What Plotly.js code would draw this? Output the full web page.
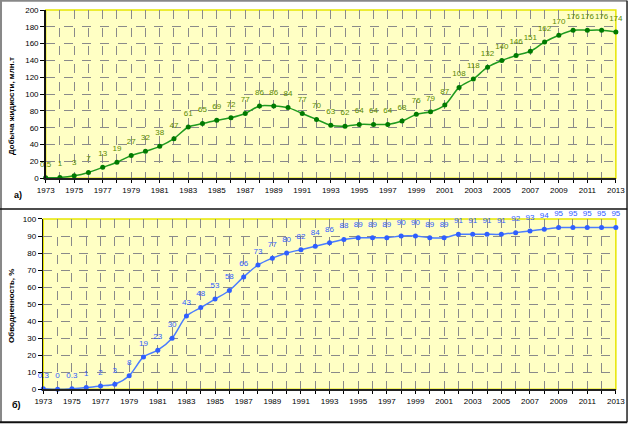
<!DOCTYPE html>
<html>
<head>
<meta charset="utf-8">
<script src="https://cdn.plot.ly/plotly-3.0.1.min.js"></script>
<style>
  html, body { margin: 0; padding: 0; background: #fff; }
  #chart { width: 631px; height: 424px; }
</style>
</head>
<body>
<div id="chart"></div>
<script>
const years = [];
for (let y = 1973; y <= 2013; y++) years.push(y);

// добыча жидкости, млн.т
const liquid = [0.5, 1, 3, 7, 13, 19, 27, 32, 38, 47, 61, 65, 69, 72, 77, 86, 86, 84, 77, 70,
    63, 62, 64, 64, 64, 68, 76, 79, 87, 108, 118, 132, 140, 146, 151, 162, 170, 176, 176, 176, 174];

// обводненность, %
const waterCut = [0.3, 0, 0.3, 1, 2, 3, 8, 19, 23, 30, 43, 48, 53, 58, 66, 73, 77, 80, 82, 84,
    86, 88, 89, 89, 89, 90, 90, 89, 89, 91, 91, 91, 91, 92, 93, 94, 95, 95, 95, 95, 95];

const yearLabels = years.map((y, i) => (i % 2 === 0 ? String(y) : ""));

const font = { family: "Liberation Sans, Arial, sans-serif", size: 8, color: "#000" };

function seriesTrace(values, lineColor, markerColor, xa, ya) {
    return {
        x: years,
        y: values,
        type: "scatter",
        mode: "lines+markers",
        line: { color: lineColor, width: 1.5, shape: "spline", smoothing: 0.8 },
        marker: { color: markerColor, size: 5 },
        cliponaxis: false,
        xaxis: xa,
        yaxis: ya,
    };
}

// подписи значений над точками (невидимый маркер задаёт отступ)
function labelTrace(values, textColor, xa, ya) {
    return {
        x: years,
        y: values,
        type: "scatter",
        mode: "markers+text",
        marker: { size: 13, color: "rgba(0,0,0,0)" },
        text: values.map(String),
        textposition: "top center",
        textfont: { family: font.family, size: 8, color: textColor },
        cliponaxis: false,
        xaxis: xa,
        yaxis: ya,
    };
}

const data = [
    seriesTrace(liquid, "#1f9a1f", "#007a00", "x", "y"),
    labelTrace(liquid, "#5a8a00", "x", "y"),
    seriesTrace(waterCut, "#4a7cff", "#2f5fff", "x2", "y2"),
    labelTrace(waterCut, "#2f5cff", "x2", "y2"),
];

const xBase = {
    range: [1973, 2013],
    tickvals: years,
    ticktext: yearLabels,
    ticks: "outside",
    ticklen: 3,
    tickcolor: "#000",
    showgrid: true,
    gridcolor: "#8a8a8a",
    griddash: "dash",
    gridwidth: 1,
    showline: true,
    linecolor: "#222",
    linewidth: 2,
    zeroline: false,
    tickfont: font,
    fixedrange: true,
};

const yBase = {
    ticks: "outside",
    ticklen: 4,
    tickcolor: "#000",
    showgrid: true,
    gridcolor: "#8a8a8a",
    griddash: "dash",
    gridwidth: 1,
    showline: true,
    linecolor: "#111",
    linewidth: 1.5,
    zeroline: false,
    tickfont: font,
    fixedrange: true,
};

const layout = {
    width: 631,
    height: 424,
    margin: { l: 0, r: 0, t: 0, b: 0 },
    paper_bgcolor: "#fff",
    plot_bgcolor: "#ffffc4",
    showlegend: false,
    xaxis: Object.assign({}, xBase, { domain: [0.0724, 0.976], anchor: "y" }),
    yaxis: Object.assign({}, yBase, { domain: [0.5795, 0.9764], range: [0, 200], dtick: 20, anchor: "x" }),
    xaxis2: Object.assign({}, xBase, { domain: [0.0686, 0.976], anchor: "y2" }),
    yaxis2: Object.assign({}, yBase, { domain: [0.0818, 0.4835], range: [0, 100], dtick: 10, anchor: "x2" }),
    shapes: [
        // рамки областей построения
        { type: "rect", xref: "x domain", yref: "y domain", x0: 0, x1: 1, y0: 0, y1: 1,
          line: { color: "#e6e600", width: 1.5 }, layer: "below" },
        { type: "rect", xref: "x2 domain", yref: "y2 domain", x0: 0, x1: 1, y0: 0, y1: 1,
          line: { color: "#e6e600", width: 1.5 }, layer: "below" },
        // рамки диаграмм
        { type: "line", xref: "paper", yref: "paper", x0: 0.0016, x1: 0.0016, y0: 0.005, y1: 0.998,
          line: { color: "#888", width: 2 } },
        { type: "line", xref: "paper", yref: "paper", x0: 0, x1: 0.994, y0: 0.998, y1: 0.998,
          line: { color: "#888", width: 2 } },
        { type: "line", xref: "paper", yref: "paper", x0: 0.9937, x1: 0.9937, y0: 0.004, y1: 0.998,
          line: { color: "#222", width: 1.5 } },
        { type: "line", xref: "paper", yref: "paper", x0: 0, x1: 0.994, y0: 0.507, y1: 0.507,
          line: { color: "#111", width: 1.5 } },
        { type: "line", xref: "paper", yref: "paper", x0: 0, x1: 0.994, y0: 0.004, y1: 0.004,
          line: { color: "#111", width: 2 } },
    ],
    annotations: [
        { text: "<b>Добыча жидкости, млн.т</b>", textangle: -90, xref: "paper", yref: "paper",
          x: 11 / 631, y: 1 - 106 / 424, xanchor: "center", yanchor: "middle", showarrow: false,
          font: { family: font.family, size: 8, color: "#000" } },
        { text: "<b>Обводненность, %</b>", textangle: -90, xref: "paper", yref: "paper",
          x: 11 / 631, y: 1 - 306 / 424, xanchor: "center", yanchor: "middle", showarrow: false,
          font: { family: font.family, size: 8, color: "#000" } },
        { text: "<b>а)</b>", xref: "paper", yref: "paper", x: 18 / 631, y: 1 - 195 / 424,
          xanchor: "center", yanchor: "middle",
          showarrow: false, font: { family: font.family, size: 9, color: "#000" } },
        { text: "<b>б)</b>", xref: "paper", yref: "paper", x: 16 / 631, y: 1 - 405 / 424,
          xanchor: "center", yanchor: "middle",
          showarrow: false, font: { family: font.family, size: 9, color: "#000" } },
    ],
};

Plotly.newPlot(document.getElementById("chart"), data, layout, { staticPlot: true });
</script>
</body>
</html>
